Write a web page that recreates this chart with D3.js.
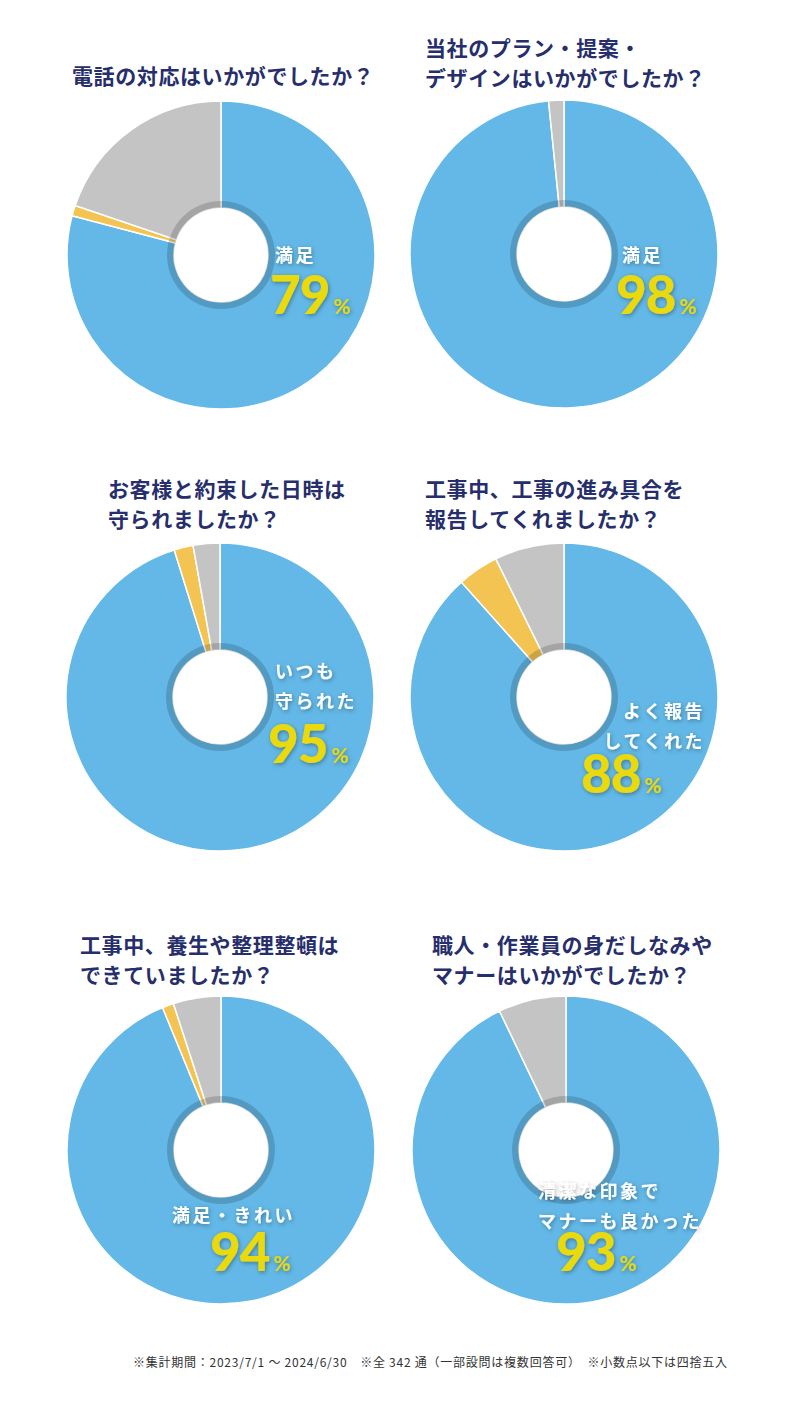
<!DOCTYPE html>
<html>
<head>
<meta charset="utf-8">
<script src="https://cdn.jsdelivr.net/npm/d3@7"></script>
<style>
  body { margin: 0; background: #fff; }
  svg { display: block; }
</style>
</head>
<body>
<script>
// data
const titles = [
  ["電話の対応はいかがでしたか？"],
  ["当社のプラン・提案・", "デザインはいかがでしたか？"],
  ["お客様と約束した日時は", "守られましたか？"],
  ["工事中、工事の進み具合を", "報告してくれましたか？"],
  ["工事中、養生や整理整頓は", "できていましたか？"],
  ["職人・作業員の身だしなみや", "マナーはいかがでしたか？"]
];
const satisfied = [79.1, 98.4, 95.2, 88.4, 93.8, 92.9];
const middle    = [1.1, 0, 2.0, 4.3, 1.2, 0];
const other     = [19.8, 1.6, 2.8, 7.3, 5.0, 7.1];
const answerLabels = [
  ["満足"],
  ["満足"],
  ["いつも", "守られた"],
  ["よく報告", "してくれた"],
  ["満足・きれい"],
  ["清潔な印象で", "マナーも良かった"]
];
const percents = [79, 98, 95, 88, 94, 93];
const footnote = "※集計期間：2023/7/1 ～ 2024/6/30　※全 342 通（一部設問は複数回答可）　※小数点以下は四捨五入";

const colors = ["#63b8e7", "#f4c453", "#c4c4c4"];

// layout
const width = 800, height = 1401;
const centers = [[221, 255], [564, 254], [220, 697], [564, 697], [221, 1150], [566, 1150]];
const titlePos = [[72, 84], [425, 56], [108, 497], [425, 497], [80, 953], [432, 953]];
const labelPos = [
  {x: 275, y: 262, anchor: "start", nx: 270, ny: 314},
  {x: 622, y: 262, anchor: "start", nx: 616, ny: 314},
  {x: 275, y: 678, anchor: "start", nx: 268, ny: 763},
  {x: 705, y: 718, anchor: "end",   nx: 581, ny: 793},
  {x: 172, y: 1222, anchor: "start", nx: 210, ny: 1271},
  {x: 538, y: 1198, anchor: "start", nx: 556, ny: 1271}
];
const outerR = 154, innerR = 47, ringW = 7;

const svg = d3.select("body").append("svg")
  .attr("width", width)
  .attr("height", height);

const defs = svg.append("defs");
defs.append("filter").attr("id", "shadow")
  .attr("x", "-20%").attr("y", "-20%").attr("width", "140%").attr("height", "140%")
  .append("feDropShadow")
  .attr("dx", 1).attr("dy", 1.5).attr("stdDeviation", 2)
  .attr("flood-color", "#000").attr("flood-opacity", 0.35);

const pie = d3.pie().sort(null).value(d => d);
const arc = d3.arc().innerRadius(innerR).outerRadius(outerR);

titles.forEach((lines, i) => {
  const [cx, cy] = centers[i];
  const g = svg.append("g").attr("transform", `translate(${cx},${cy})`);

  g.selectAll("path.slice")
    .data(pie([satisfied[i], middle[i], other[i]]))
    .enter()
    .append("path")
    .attr("class", "slice")
    .attr("d", arc)
    .attr("fill", (d, k) => colors[k])
    .attr("stroke", "#fff")
    .attr("stroke-width", d => d.value > 0 ? 1.5 : 0);

  // darker ring round the hole
  g.append("path")
    .attr("d", d3.arc().innerRadius(innerR - 1).outerRadius(innerR + ringW)({startAngle: 0, endAngle: 2 * Math.PI}))
    .attr("fill", "#000")
    .attr("opacity", 0.16);
  g.append("circle").attr("r", innerR).attr("fill", "#fff");

  // title
  const t = svg.append("text")
    .attr("x", titlePos[i][0])
    .attr("y", titlePos[i][1])
    .attr("font-family", "'Noto Sans CJK JP', 'Noto Sans', sans-serif")
    .attr("font-weight", 700)
    .attr("font-size", 21)
    .attr("letter-spacing", 0.6)
    .attr("fill", "#262e6b");
  lines.forEach((line, k) => {
    t.append("tspan")
      .attr("x", titlePos[i][0])
      .attr("dy", k === 0 ? 0 : 30)
      .text(line);
  });

  // answer label
  const p = labelPos[i];
  const lab = svg.append("text")
    .attr("x", p.x)
    .attr("y", p.y)
    .attr("text-anchor", p.anchor)
    .attr("font-family", "'Noto Sans CJK JP', sans-serif")
    .attr("font-weight", 700)
    .attr("font-size", 18)
    .attr("letter-spacing", 2.5)
    .attr("fill", "#fff")
    .attr("filter", "url(#shadow)");
  answerLabels[i].forEach((line, k) => {
    lab.append("tspan")
      .attr("x", p.x)
      .attr("dy", k === 0 ? 0 : 30)
      .text(line);
  });

  const num = svg.append("text")
    .attr("x", p.nx)
    .attr("y", p.ny)
    .attr("font-family", "Lato, sans-serif")
    .attr("font-weight", 900)
    .attr("fill", "#ead90a")
    .attr("filter", "url(#shadow)");
  num.append("tspan")
    .attr("font-size", 53)
    .attr("letter-spacing", -1)
    .text(percents[i]);
  num.append("tspan")
    .attr("dx", 4)
    .attr("font-size", 21)
    .attr("font-weight", 700)
    .text("%");
});

svg.append("text")
  .attr("x", 133)
  .attr("y", 1367)
  .attr("font-family", "'Noto Sans CJK JP', sans-serif")
  .attr("font-size", 12)
  .attr("textLength", 594)
  .attr("lengthAdjust", "spacing")
  .attr("fill", "#333")
  .text(footnote);
</script>
</body>
</html>
